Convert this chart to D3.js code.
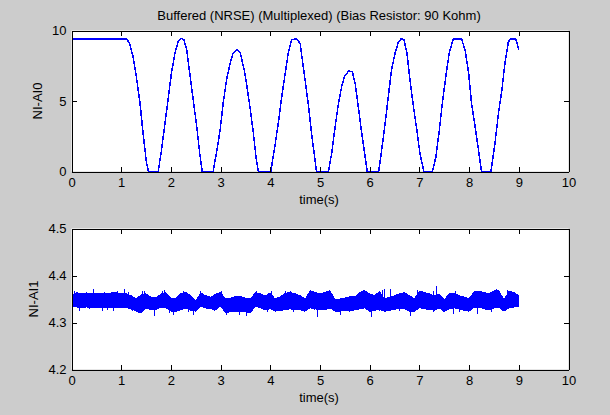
<!doctype html>
<html lang='en'>
<head>
<meta charset="utf-8">
<title>Buffered (NRSE) (Multiplexed)</title>
<script src="https://d3js.org/d3.v7.min.js"></script>
<style>
  body { margin: 0; background: #cccccc; }
  svg { display: block; }
  text { font-family: "Liberation Sans", Arial, sans-serif; font-size: 13px; fill: #000; }
  .tick line, .domain { stroke: #000; shape-rendering: crispEdges; }
</style>
</head>
<body>
<div id='chart'></div>
<script>
const titleText = 'Buffered (NRSE) (Multiplexed) (Bias Resistor: 90 Kohm)';
const xTicks = [0,1,2,3,4,5,6,7,8,9,10];
const upperTicks = [0,5,10];
const lowerTicks = [4.2,4.3,4.4,4.5];

// NI-AI0
const ai0Time = [0,1.11,
  1.17,1.24,1.31,1.38,1.44,1.51,1.55,1.745,1.81,1.88,1.95,2.01,2.08,2.15,2.21,2.26,2.32,2.38,2.45,2.52,2.58,2.63,2.85,
  2.92,2.99,3.05,3.12,3.19,3.25,3.34,3.40,3.49,3.59,3.66,3.72,3.76,4.01,4.09,4.16,4.23,4.30,4.36,4.43,4.53,4.6,4.70,
  4.77,4.83,4.90,4.93,5.17,5.24,5.30,5.37,5.44,5.50,5.58,5.65,5.71,5.77,5.84,5.91,5.95,6.18,6.24,6.31,6.38,6.44,6.51,6.58,6.63,6.69,6.75,6.81,6.88,6.95,7.01,7.09,7.26,
  7.33,7.40,7.46,7.53,7.60,7.68,7.85,7.92,7.99,8.05,8.12,8.19,8.25,8.44,8.52,8.59,8.66,8.72,8.79,8.84,8.94,9.0];
const ai0Volts = [9.39,9.39,
  9.08,8.13,6.6,4.8,2.7,0.57,0,0,1.5,3.4,5.3,6.95,8.37,9.27,9.43,9.36,8.6,6.95,5.06,3.17,1.28,0,0,
  1.4,2.93,4.8,6.5,7.66,8.37,8.65,8.37,6.95,4.6,2.7,0.8,0,0,1.75,3.4,5.3,6.95,8.37,9.36,9.4,9.08,6.48,
  4.6,2.7,0.8,0,0,1.4,3.05,4.8,6.1,6.8,7.13,7.08,6.2,4.6,2.7,1,0,0,1.5,3.4,5.5,7.2,8.4,9.2,9.4,9.36,8.37,6.5,4.6,2.9,1.3,0,0,
  1,2.9,4.8,6.7,8.4,9.4,9.4,8.6,7,4.8,3.2,1.5,0,0,2,4.1,5.8,7.66,9.2,9.4,9.4,8.65];

// NI-AI1 noise band, upper and lower edge every 0.1 s
const ai1Time = d3.range(0, 91).map(i => i / 10);
const ai1High = [4.358,4.365,4.362,4.362,4.362,4.362,4.362,4.362,4.364,4.364,4.362,4.362,4.358,4.351,4.360,4.362,4.355,4.353,4.362,4.365,4.353,4.353,4.363,4.365,4.358,4.348,4.364,4.358,4.355,4.361,
  4.365,4.351,4.353,4.356,4.356,4.353,4.351,4.365,4.362,4.358,4.364,4.351,4.356,4.363,4.365,4.362,4.358,4.351,4.369,4.365,4.362,4.365,4.369,4.351,4.351,4.353,4.356,4.356,4.365,4.369,
  4.362,4.358,4.368,4.351,4.355,4.358,4.362,4.365,4.358,4.352,4.368,4.365,4.362,4.358,4.361,4.350,4.362,4.364,4.358,4.355,4.352,4.367,4.368,4.365,4.362,4.368,4.370,4.350,4.368,4.365,4.358];
const ai1Low = [4.332,4.332,4.330,4.332,4.331,4.331,4.331,4.330,4.330,4.330,4.331,4.331,4.328,4.323,4.319,4.330,4.326,4.326,4.332,4.330,4.323,4.323,4.326,4.330,4.325,4.323,4.334,4.330,4.328,4.326,
  4.334,4.319,4.322,4.323,4.323,4.322,4.319,4.334,4.330,4.326,4.328,4.323,4.325,4.326,4.328,4.326,4.326,4.323,4.330,4.328,4.326,4.326,4.330,4.323,4.323,4.325,4.323,4.326,4.328,4.330,
  4.323,4.325,4.327,4.323,4.325,4.327,4.330,4.328,4.323,4.322,4.331,4.328,4.327,4.325,4.330,4.322,4.328,4.330,4.328,4.325,4.323,4.331,4.332,4.328,4.326,4.330,4.332,4.323,4.330,4.332,4.334];
const spikeTime = [0.44,1.07,0.16,0.62,0.85,1.66,1.88,1.42,2.45,2.05,3.53,3.12,3.38,4.95,5.41,6.04,6.41,6.83,7.35,6.3,8.16,8.56,5.2,7.68,4.3,
  0.07,0.31,0.66,0.93,1.15,1.47,1.83,2.25,2.6,3.02,3.72,4.03,4.41,4.85,5.16,5.87,6.26,6.96,7.29,7.72,8.22,8.78,
  0.36,0.72,1.22,1.56,1.98,2.35,2.88,3.95,4.46,4.88,5.6,6.2,6.6,7.28,7.8,8.45,8.85];
const spikeVolt = [4.371,4.372,4.325,4.325,4.324,4.314,4.369,4.366,4.316,4.317,4.314,4.315,4.315,4.312,4.316,4.312,4.371,4.314,4.378,4.371,4.318,4.372,4.368,4.319,4.368,
  4.368,4.365,4.365,4.367,4.365,4.367,4.366,4.367,4.366,4.368,4.367,4.367,4.367,4.367,4.367,4.369,4.369,4.369,4.366,4.367,4.368,4.369,
  4.328,4.327,4.325,4.326,4.320,4.323,4.324,4.323,4.323,4.326,4.322,4.324,4.325,4.323,4.322,4.322,4.330];

const width = 610, height = 415;
const x0 = 71.5, x1 = 568.5;

const svg = d3.select('#chart').append('svg')
  .attr('width', width)
  .attr('height', height);

svg.append('text')
  .attr('x', 319)
  .attr('y', 20)
  .attr('text-anchor', 'middle')
  .text(titleText);

function drawPanel(yTop, yBottom, domain, yTicks, yFormat, yName, yNameX) {
  const x = d3.scaleLinear().domain([0, 10]).range([x0, x1]);
  const y = d3.scaleLinear().domain(domain).range([yBottom, yTop]);
  const g = svg.append('g');

  g.append('rect')
    .attr('x', x0).attr('y', yTop)
    .attr('width', x1 - x0).attr('height', yBottom - yTop)
    .attr('fill', '#fff');

  const marks = g.append('g');

  const tick = 5;
  const xb = g.append('g').attr('transform', 'translate(0,' + yBottom + ')')
    .call(d3.axisBottom(x).tickValues(xTicks).tickFormat(d3.format('d')).tickSizeInner(-tick).tickSizeOuter(0));
  g.append('g').attr('transform', 'translate(0,' + yTop + ')')
    .call(d3.axisTop(x).tickValues(xTicks).tickFormat(() => '').tickSizeInner(-tick).tickSizeOuter(0));
  g.append('g').attr('transform', 'translate(' + x0 + ',0)')
    .call(d3.axisLeft(y).tickValues(yTicks).tickFormat(yFormat).tickSizeInner(-tick).tickSizeOuter(0).tickPadding(5));
  g.append('g').attr('transform', 'translate(' + x1 + ',0)')
    .call(d3.axisRight(y).tickValues(yTicks).tickFormat(() => '').tickSizeInner(-tick).tickSizeOuter(0));
  g.selectAll('.tick text').style('font-family', '"Liberation Sans", Arial, sans-serif').style('font-size', '13px');
  xb.selectAll('.tick text').attr('y', 6);

  g.append('text')
    .attr('x', 319)
    .attr('y', yBottom + 32)
    .attr('text-anchor', 'middle')
    .text('time(s)');

  g.append('text')
    .attr('transform', 'translate(' + yNameX + ',' + ((yTop + yBottom) / 2) + ') rotate(-90)')
    .attr('text-anchor', 'middle')
    .text(yName);

  return { x, y, marks };
}

const upper = drawPanel(30.5, 171.5, [0, 10], upperTicks, d3.format('d'), 'NI-AI0', 42);
const lower = drawPanel(228.5, 369.5, [4.2, 4.5], lowerTicks, d3.format('.1f'), 'NI-AI1', 38);

upper.marks.append('path')
  .attr('d', d3.line().x(d => upper.x(d)).y((d, i) => upper.y(ai0Volts[i]))(ai0Time))
  .attr('fill', 'none')
  .attr('stroke', '#0000ff')
  .attr('stroke-width', 1.5)
  .attr('shape-rendering', 'crispEdges');

lower.marks.append('path')
  .attr('d', d3.area().x(d => lower.x(d)).y0((d, i) => lower.y(ai1Low[i])).y1((d, i) => lower.y(ai1High[i]))(ai1Time))
  .attr('fill', '#0000ff')
  .attr('shape-rendering', 'crispEdges');

lower.marks.selectAll('line')
  .data(spikeTime)
  .enter()
  .append('line')
  .attr('x1', d => lower.x(d))
  .attr('x2', d => lower.x(d))
  .attr('y1', lower.y(4.345))
  .attr('y2', (d, i) => lower.y(spikeVolt[i]))
  .attr('stroke', '#0000ff')
  .attr('shape-rendering', 'crispEdges');
</script>
</body>
</html>
